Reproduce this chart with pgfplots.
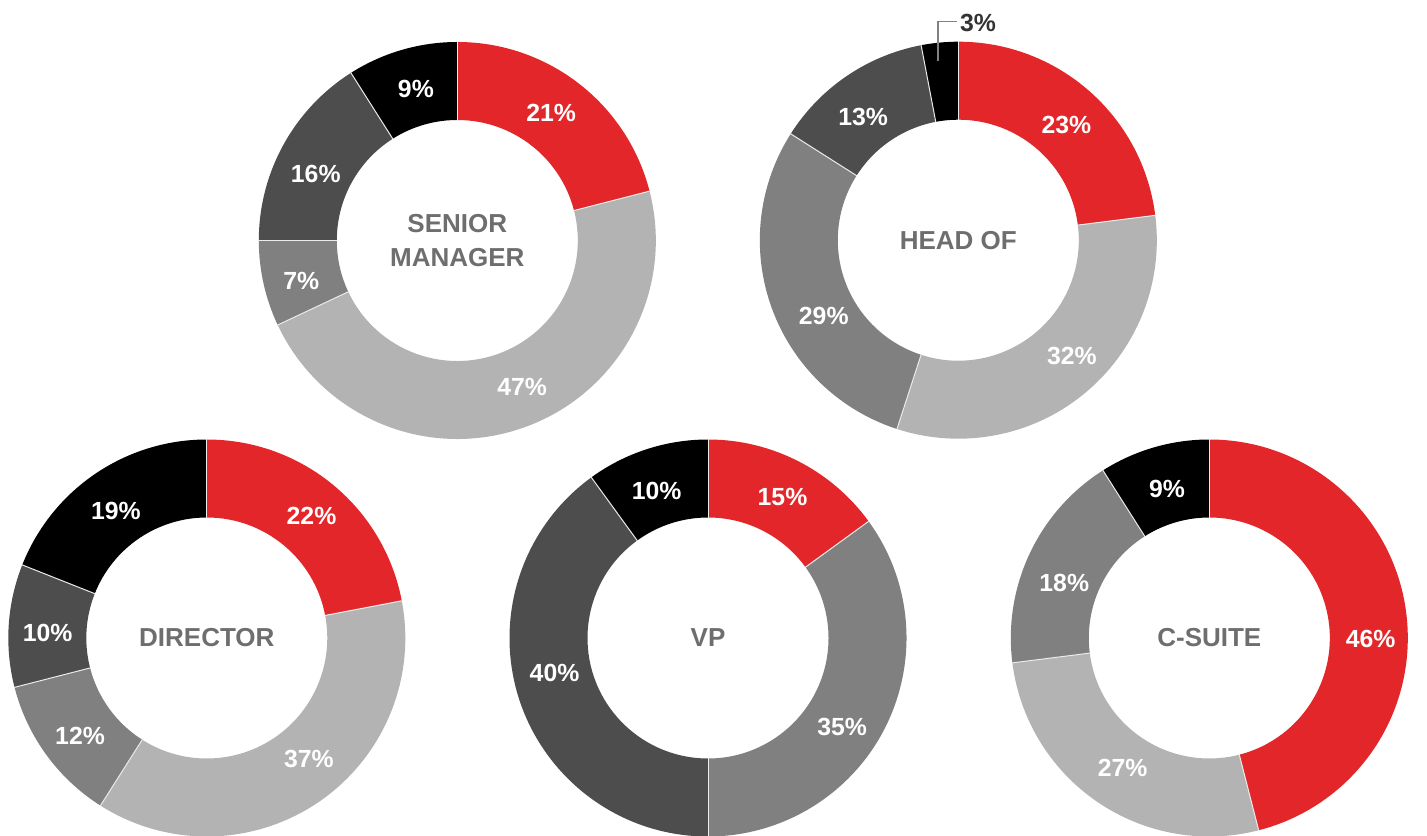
\documentclass[border=0pt]{standalone}
\usepackage{pgfplots}
\pgfplotsset{compat=1.18}
\usepackage{pgfplotstable}
\usepackage{fontspec}
\setmainfont{Liberation Sans}
\definecolor{cred}{HTML}{E3262A}
\definecolor{clight}{HTML}{B3B3B3}
\definecolor{cmid}{HTML}{808080}
\definecolor{cdark}{HTML}{4D4D4D}
\definecolor{cblack}{HTML}{000000}
\definecolor{ctitle}{HTML}{6E6E6E}
\definecolor{cout}{HTML}{333333}

% v = share of slice (clockwise from 12 o'clock), c = colour,
% la/lr = label position (degrees clockwise from top, radius in px), o = outside label
\pgfplotstableread{
v c la lr o
21 cred 36.4 158.2 0
47 clight 156.1 160.0 0
7 cmid 255.5 161.1 0
16 cdark 295.1 156.3 0
9 cblack 344.7 156.9 0
}\senior
\pgfplotstableread{
v c la lr o
23 cred 43.2 157.8 0
32 clight 135.5 162.0 0
29 cmid 240.7 154.3 0
13 cdark 322.4 155.9 0
3 cblack 353.6 180.6 1
}\headof
\pgfplotstableread{
v c la lr o
22 cred 40.6 160.9 0
37 clight 139.8 158.1 0
12 cmid 232.2 160.4 0
10 cdark 271.9 159.3 0
19 cblack 324.5 156.6 0
}\director
\pgfplotstableread{
v c la lr o
15 cred 27.8 159.7 0
35 cmid 123.5 160.9 0
40 cdark 257.2 157.4 0
10 cblack 340.7 155.5 0
}\vp
\pgfplotstableread{
v c la lr o
46 cred 90.4 161.4 0
27 clight 213.8 155.9 0
18 cmid 290.8 155.2 0
9 cblack 344.1 154.7 0
}\csuite

\tikzset{
  lbl/.style={text=white,font=\bfseries\fontsize{12.4}{14}\selectfont,inner sep=0pt},
  ttl/.style={text=ctitle,font=\bfseries\fontsize{13}{17}\selectfont,align=center,inner sep=0pt},
}

% #1 table, #2 #3 centre (px), #4 title
\newcommand\donut[4]{%
  \pgfplotstablegetrowsof{#1}%
  \pgfmathtruncatemacro\lastrow{\pgfplotsretval-1}%
  \xdef\cum{0}%
  \foreach \i in {0,...,\lastrow}{%
    \pgfplotstablegetelem{\i}{v}\of{#1}\let\val\pgfplotsretval
    \pgfplotstablegetelem{\i}{c}\of{#1}\let\col\pgfplotsretval
    \pgfmathsetmacro\aone{90-3.6*\cum}%
    \pgfmathsetmacro\atwo{90-3.6*(\cum+\val)}%
    \pgfmathsetmacro\xa{#2+198.5*cos(\aone)}%
    \pgfmathsetmacro\ya{#3+198.5*sin(\aone)}%
    \pgfmathsetmacro\xb{#2+120.5*cos(\atwo)}%
    \pgfmathsetmacro\yb{#3+120.5*sin(\atwo)}%
    \edef\tmp{\noexpand\fill[\col] (axis cs:\xa,\ya) arc[start angle=\aone,end angle=\atwo,radius=99.25pt] -- (axis cs:\xb,\yb) arc[start angle=\atwo,end angle=\aone,radius=60.25pt] -- cycle;}\tmp
    \pgfmathsetmacro\newcum{\cum+\val}\xdef\cum{\newcum}%
  }%
  \xdef\cum{0}%
  \foreach \i in {0,...,\lastrow}{%
    \pgfplotstablegetelem{\i}{v}\of{#1}\let\val\pgfplotsretval
    \pgfplotstablegetelem{\i}{la}\of{#1}\let\la\pgfplotsretval
    \pgfplotstablegetelem{\i}{lr}\of{#1}\let\lr\pgfplotsretval
    \pgfplotstablegetelem{\i}{o}\of{#1}\let\out\pgfplotsretval
    \pgfmathsetmacro\aone{90-3.6*\cum}%
    \pgfmathsetmacro\xa{#2+199*cos(\aone)}%
    \pgfmathsetmacro\ya{#3+199*sin(\aone)}%
    \pgfmathsetmacro\xb{#2+120*cos(\aone)}%
    \pgfmathsetmacro\yb{#3+120*sin(\aone)}%
    \edef\tmp{\noexpand\draw[white!92!black,line width=0.5pt] (axis cs:\xa,\ya) -- (axis cs:\xb,\yb);}\tmp
    \pgfmathsetmacro\xl{#2+\lr*cos(90-\la)}%
    \pgfmathsetmacro\yl{#3+\lr*sin(90-\la)}%
    \ifnum\out=1
      \pgfmathsetmacro\yt{#3+218.5}%
      \pgfmathsetmacro\xt{#2-1}%
      \edef\tmp{\noexpand\draw[cmid,line width=0.8pt] (axis cs:\xl,\yl) |- (axis cs:\xt,\yt) node[anchor=west,lbl,text=cout,xshift=1pt,yshift=-0.4pt] {\val\noexpand\%};}\tmp
    \else
      \edef\tmp{\noexpand\node[lbl] at (axis cs:\xl,\yl) {\val\noexpand\%};}\tmp
    \fi
    \pgfmathsetmacro\newcum{\cum+\val}\xdef\cum{\newcum}%
  }%
  \node[ttl] at (axis cs:#2,#3) {#4};%
}

\begin{document}
\begin{tikzpicture}
\begin{axis}[
  x=0.5pt, y=0.5pt,
  xmin=0, xmax=1427, ymin=0, ymax=835,
  hide axis, clip=true,
]
\path (rel axis cs:0,0) (rel axis cs:1,1);
\donut{\senior}{457.3}{594.5}{SENIOR\\MANAGER}
\donut{\headof}{958.3}{594.8}{HEAD OF}
\donut{\director}{206.8}{197}{DIRECTOR}
\donut{\vp}{708}{197}{VP}
\donut{\csuite}{1209.3}{197}{C-SUITE}
\end{axis}
\end{tikzpicture}
\end{document}
